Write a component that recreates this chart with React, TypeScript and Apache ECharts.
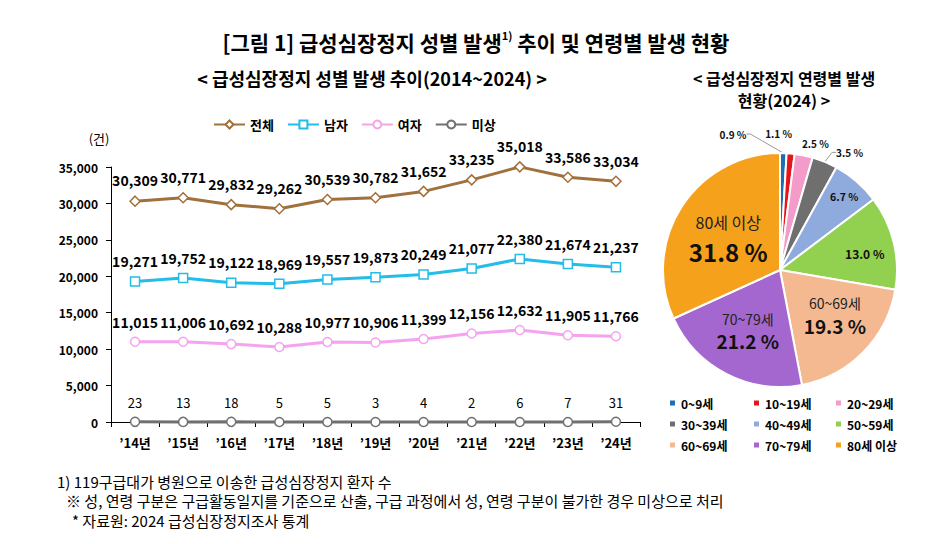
import React, { useEffect, useRef } from 'react';
import * as echarts from 'echarts';

const FONT = '"Noto Sans CJK KR", "Noto Sans", sans-serif';

// ---- data: line chart ----
const years = ['’14년', '’15년', '’16년', '’17년', '’18년', '’19년', '’20년', '’21년', '’22년', '’23년', '’24년'];
const totalCases = [30309, 30771, 29832, 29262, 30539, 30782, 31652, 33235, 35018, 33586, 33034];
const maleCases = [19271, 19752, 19122, 18969, 19557, 19873, 20249, 21077, 22380, 21674, 21237];
const femaleCases = [11015, 11006, 10692, 10288, 10977, 10906, 11399, 12156, 12632, 11905, 11766];
const unknownCases = [23, 13, 18, 5, 5, 3, 4, 2, 6, 7, 31];
const yMin = 0;
const yMax = 35000;
const yStep = 5000;

// ---- data: pie chart ----
const ageGroups = ['0~9세', '10~19세', '20~29세', '30~39세', '40~49세', '50~59세', '60~69세', '70~79세', '80세 이상'];
const ageShares = [0.9, 1.1, 2.5, 3.5, 6.7, 13.0, 19.3, 21.2, 31.8];
const ageColors = ['#1F6DB5', '#E8141B', '#F39BC9', '#6F6F6F', '#8FAADC', '#92D050', '#F4B990', '#A466CF', '#F5A11C'];

// label placement tweaks (style only)
const pieLabelShift = [[-73, -13], [-35, -14], [-12, -6], [0, -4], [24, -27], [25, -2], [11, 2], [-4, 6], [0, 0]];

const fmt = (v: number) => v.toLocaleString('en-US');

function lineSeries(name: string, data: number[], color: string, symbol: string, bold: boolean) {
  return {
    name,
    type: 'line',
    data,
    symbol,
    symbolSize: symbol === 'diamond' ? 10 : 9,
    showAllSymbol: true,
    clip: false,
    lineStyle: { color, width: 3 },
    itemStyle: { color: '#fff', borderColor: color, borderWidth: 1.5 },
    label: {
      show: true,
      position: 'top',
      distance: 8,
      formatter: (p: any) => fmt(p.value),
      fontFamily: FONT,
      fontSize: bold ? 14 : 13,
      fontWeight: bold ? 'bold' : 'normal',
      color: '#000',
    },
    emphasis: { disabled: true },
    z: 3,
  };
}

function text(x: number, y: number, t: string, size: number, weight: string, align = 'center') {
  return {
    type: 'text',
    x,
    y,
    style: {
      text: t,
      fill: '#000',
      fontFamily: FONT,
      fontSize: size,
      fontWeight: weight,
      align,
      textAlign: align,
      verticalAlign: 'middle',
      textVerticalAlign: 'middle',
    },
  };
}

export default function App() {
  const ref = useRef<HTMLDivElement>(null);

  useEffect(() => {
    const chart = echarts.init(ref.current!, null, { renderer: 'svg' });

    const option: any = {
      animation: false,
      backgroundColor: '#fff',
      textStyle: { fontFamily: FONT },
      graphic: {
        elements: [
          {
            type: 'text',
            x: 476,
            y: 42,
            style: {
              text: '{a|[그림 1] 급성심장정지 성별 발생}{s|1)}{a| 추이 및 연령별 발생 현황}',
              align: 'center',
              textAlign: 'center',
              verticalAlign: 'middle',
              textVerticalAlign: 'middle',
              fill: '#000',
              rich: {
                a: { fontFamily: FONT, fontSize: 21, fontWeight: 'bold', fill: '#000', color: '#000', lineHeight: 26 },
                s: { fontFamily: FONT, fontSize: 11, fontWeight: 'bold', fill: '#000', color: '#000', lineHeight: 14, verticalAlign: 'top' },
              },
            },
          },
          text(372, 78, '< 급성심장정지 성별 발생 추이(2014~2024) >', 18, 'bold'),
          text(784, 78, '< 급성심장정지 연령별 발생', 16, 'bold'),
          text(784, 100, '현황(2024) >', 16, 'bold'),
          text(99, 138, '(건)', 13, 'normal'),
          text(57, 481, '1) 119구급대가 병원으로 이송한 급성심장정지 환자 수', 15, 'normal', 'left'),
          text(66, 500.5, '※ 성, 연령 구분은 구급활동일지를 기준으로 산출, 구급 과정에서 성, 연령 구분이 불가한 경우 미상으로 처리', 15, 'normal', 'left'),
          text(72, 520, '* 자료원: 2024 급성심장정지조사 통계', 15, 'normal', 'left'),
        ],
      },
      legend: [
        {
          data: ['전체', '남자', '여자', '미상'],
          left: 213,
          top: 118,
          padding: 0,
          itemWidth: 31,
          itemHeight: 10,
          itemGap: 13,
          textStyle: { fontFamily: FONT, fontSize: 13, fontWeight: 'bold', color: '#000' },
        },
        ...[0, 1, 2].map((c) => ({
          data: [ageGroups[c], ageGroups[c + 3], ageGroups[c + 6]],
          orient: 'vertical',
          left: [668, 752, 834][c],
          top: 397,
          padding: 0,
          icon: 'rect',
          itemWidth: 7,
          itemHeight: 7,
          itemGap: 9,
          textStyle: { fontFamily: FONT, fontSize: 12, fontWeight: 'bold', color: '#000' },
        })),
      ],
      grid: { left: 111, right: 309, top: 167, bottom: 122 },
      xAxis: {
        type: 'category',
        data: years,
        boundaryGap: true,
        axisLine: { lineStyle: { color: '#000', width: 1 } },
        axisTick: { show: true, length: 5, lineStyle: { color: '#000' } },
        axisLabel: { fontFamily: FONT, fontSize: 13, fontWeight: 'bold', color: '#000', margin: 14 },
      },
      yAxis: {
        type: 'value',
        min: yMin,
        max: yMax,
        interval: yStep,
        axisLine: { show: true, lineStyle: { color: '#000', width: 1 } },
        axisTick: { show: true, length: 5, lineStyle: { color: '#000' } },
        splitLine: { show: false },
        axisLabel: { fontFamily: FONT, fontSize: 12, fontWeight: 'bold', color: '#000', margin: 13, formatter: (v: number) => fmt(v) },
      },
      series: [
        lineSeries('전체', totalCases, '#A0703D', 'diamond', true),
        lineSeries('남자', maleCases, '#22BDE8', 'rect', true),
        lineSeries('여자', femaleCases, '#F5A3EE', 'circle', true),
        lineSeries('미상', unknownCases, '#707070', 'circle', false),
        {
          name: '연령별',
          type: 'pie',
          center: [780, 270],
          radius: 117,
          startAngle: 90,
          clockwise: true,
          avoidLabelOverlap: false,
          emphasis: { disabled: true },
          itemStyle: { borderColor: '#fff', borderWidth: 2 },
          label: {
            color: '#111',
            formatter: (p: any) => {
              const v = `${p.value.toFixed(1)} %`;
              if (p.dataIndex >= 6) return `{n${p.dataIndex === 8 ? 'L' : ''}|${p.name}}\n{${p.dataIndex === 8 ? 'c' : 'b'}|${v}}`;
              if (p.dataIndex >= 4) return `{m${p.dataIndex}|${v}}`;
              return `{s|${v}}`;
            },
            rich: {
              s: { fontFamily: FONT, fontSize: 10, fontWeight: 'bold', color: '#111' },
              m4: { fontFamily: FONT, fontSize: 10.5, fontWeight: 'bold', color: '#111' },
              m5: { fontFamily: FONT, fontSize: 12, fontWeight: 'bold', color: '#111' },
              n: { fontFamily: FONT, fontSize: 14, color: '#222', lineHeight: 20 },
              nL: { fontFamily: FONT, fontSize: 16, color: '#222', lineHeight: 28 },
              b: { fontFamily: FONT, fontSize: 19, fontWeight: 'bold', color: '#111', lineHeight: 24 },
              c: { fontFamily: FONT, fontSize: 24, fontWeight: 'bold', color: '#111', lineHeight: 32 },
            },
          },
          labelLayout: (p: any) => {
            const r = p.labelRect;
            const s = pieLabelShift[p.dataIndex] || [0, 0];
            return { x: r.x + r.width / 2 + s[0], y: r.y + r.height / 2 + s[1], align: 'center', verticalAlign: 'middle' };
          },
          data: ageGroups.map((name, i) => ({
            name,
            value: ageShares[i],
            itemStyle: { color: ageColors[i] },
            label: { position: i < 4 ? 'outside' : 'inside' },
            labelLine: {
              show: i === 0 || i === 3,
              length: 6,
              length2: 4,
              lineStyle: { color: '#9a9a9a', width: 1 },
            },
          })),
        },
      ],
    };

    chart.setOption(option);
    return () => chart.dispose();
  }, []);

  return (
    <div
      ref={ref}
      style={{ position: 'absolute', left: 0, top: 0, width: 949, height: 544, background: '#fff' }}
    />
  );
}
